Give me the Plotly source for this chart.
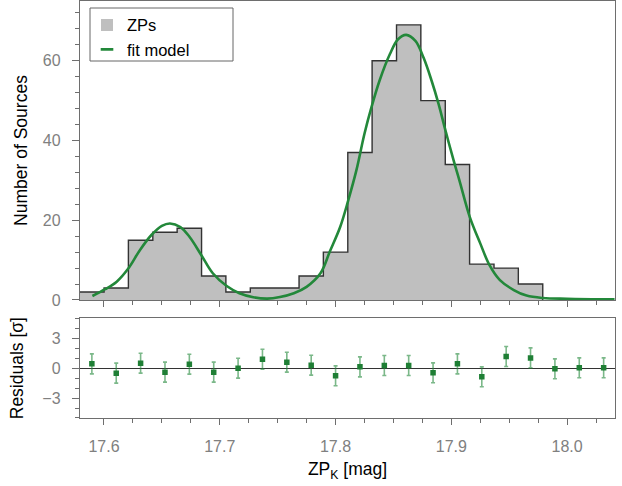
import plotly.graph_objects as go

# ---------------- data ----------------
bin_edges = [17.5790, 17.6001, 17.6211, 17.6422, 17.6632, 17.6843, 17.7053, 17.7264,
             17.7474, 17.7685, 17.7895, 17.8106, 17.8316, 17.8527, 17.8737, 17.8948,
             17.9158, 17.9369, 17.9579, 17.9790, 18.0000, 18.0211, 18.0421]
counts = [2, 3, 15, 17, 18, 6, 2, 3, 3, 6, 12, 37, 60, 69, 50, 34, 9, 8, 4, 0, 0, 0]

fit_x = [17.590, 17.601, 17.611, 17.621, 17.631, 17.641, 17.650, 17.657, 17.666, 17.674,
         17.684, 17.694, 17.706, 17.717, 17.729, 17.741, 17.752, 17.764, 17.775, 17.787,
         17.795, 17.804, 17.811, 17.818, 17.825, 17.831, 17.838, 17.847, 17.854, 17.861,
         17.869, 17.876, 17.883, 17.889, 17.895, 17.902, 17.907, 17.916, 17.925, 17.933,
         17.942, 17.954, 17.965, 17.979, 18.000, 18.041]
fit_y = [1.0, 2.7, 4.6, 7.9, 12.5, 16.3, 18.6, 19.2, 18.3, 15.8,
         11.3, 6.7, 3.5, 1.7, 0.7, 0.35, 0.75, 1.7, 3.3, 6.7,
         12.1, 18.3, 25.0, 32.5, 41.7, 48.3, 55.0, 61.7, 65.4, 66.5,
         65.0, 60.8, 55.0, 49.2, 42.5, 35.0, 30.0, 20.8, 14.2, 8.75,
         5.0, 2.5, 1.1, 0.5, 0.3, 0.15]

residuals = [0.43, -0.5, 0.5, -0.4, 0.4, -0.4, 0.0, 0.9, 0.6, 0.3, -0.77,
             0.13, 0.27, 0.27, -0.47, 0.43, -0.87, 1.17, 1.03, -0.07, 0.03, 0.03]
residual_err = [1.0] * 22

x_ticks = [17.6, 17.7, 17.8, 17.9, 18.0]
x_ticklabels = ["17.6", "17.7", "17.8", "17.9", "18.0"]
y_ticks_top = [0, 20, 40, 60]
y_ticks_res = [-3, 0, 3]

# derived from bins
centers = [(a + b) / 2 for a, b in zip(bin_edges[:-1], bin_edges[1:])]
widths = [b - a for a, b in zip(bin_edges[:-1], bin_edges[1:])]
n_filled = 19  # number of non-empty bins drawn with an outline
step_x = bin_edges[:n_filled + 1]
step_y = counts[:n_filled] + [0]

# ---------------- style ----------------
FONT = "Liberation Sans, Arial, Helvetica, sans-serif"
GREEN = "#23883a"
AXC = "#6e6e6e"
TICKFONT = dict(family=FONT, size=16, color="#808080")
TITLEFONT = dict(family=FONT, size=17.5, color="#000000")

fig = go.Figure()

fig.add_trace(go.Bar(x=centers, y=counts, width=widths, name="ZPs",
                     marker=dict(color="#bfbfbf", line=dict(width=0)),
                     xaxis="x", yaxis="y", showlegend=True))
fig.add_trace(go.Scatter(x=step_x, y=step_y, mode="lines", line_shape="hv",
                         line=dict(color="#333333", width=1.4),
                         xaxis="x", yaxis="y", showlegend=False, hoverinfo="skip"))
fig.add_trace(go.Scatter(x=fit_x, y=fit_y, mode="lines", line_shape="spline",
                         line=dict(color=GREEN, width=2.6),
                         xaxis="x", yaxis="y", showlegend=False, name="fit model"))
# legend handle for the fit model (short dash)
fig.add_trace(go.Scatter(x=[None], y=[None], mode="markers", name="fit model",
                         marker=dict(symbol="line-ew", size=9,
                                     line=dict(color=GREEN, width=2.6)),
                         xaxis="x", yaxis="y", showlegend=True))

fig.add_trace(go.Scatter(x=centers, y=residuals, mode="markers",
                         marker=dict(symbol="square", size=5.5, color="#1f7f35"),
                         error_y=dict(type="data", array=residual_err, visible=True,
                                      color="rgba(35,136,58,0.6)", thickness=1.6, width=2),
                         xaxis="x2", yaxis="y2", showlegend=False))

common_x = dict(range=[17.5793, 18.0414], tickvals=x_ticks, ticktext=x_ticklabels,
                ticks="outside", ticklen=6, tickwidth=1.2, tickcolor=AXC,
                minor=dict(dtick=0.025, tick0=17.6, ticks="outside", ticklen=3.5,
                           tickwidth=1.1, tickcolor=AXC),
                showline=True, linecolor=AXC, linewidth=1.4, mirror=True,
                showgrid=False, zeroline=False, tickfont=TICKFONT, automargin=False)

fig.update_layout(
    width=622, height=486,
    margin=dict(l=80, r=7, t=1, b=68, autoexpand=False),
    paper_bgcolor="white", plot_bgcolor="white",
    bargap=0,
    font=dict(family=FONT),
    xaxis=dict(domain=[0, 1], anchor="y", showticklabels=False, **common_x),
    yaxis=dict(domain=[0.283, 1.0], anchor="x", range=[0, 75],
               tickvals=y_ticks_top, ticks="outside", ticklen=7, tickwidth=1.2,
               tickcolor=AXC,
               minor=dict(dtick=4, tick0=0, ticks="outside", ticklen=4,
                          tickwidth=1.1, tickcolor=AXC),
               showline=True, linecolor=AXC, linewidth=1.4, mirror=True,
               showgrid=False, zeroline=False, tickfont=TICKFONT,
               ticklabelstandoff=8, automargin=False,
               title=dict(text="Number of Sources", font=TITLEFONT, standoff=10)),
    xaxis2=dict(domain=[0, 1], anchor="y2", ticklabelstandoff=8,
                title=dict(text="ZP<sub>K</sub> [mag]", font=TITLEFONT, standoff=8),
                **common_x),
    yaxis2=dict(domain=[0.0, 0.2391], anchor="x2", range=[-5, 5],
                tickvals=y_ticks_res, ticks="outside", ticklen=7, tickwidth=1.2,
                tickcolor=AXC,
                minor=dict(dtick=1, tick0=0, ticks="outside", ticklen=4,
                           tickwidth=1.1, tickcolor=AXC),
                showline=True, linecolor=AXC, linewidth=1.4, mirror=True,
                showgrid=False, zeroline=True, zerolinecolor="#333333",
                zerolinewidth=1.3, tickfont=TICKFONT, ticklabelstandoff=8,
                automargin=False,
                title=dict(text="Residuals [σ]", font=TITLEFONT, standoff=14)),
    legend=dict(x=0.0131, y=0.984, xanchor="left", yanchor="top",
                bgcolor="rgba(0,0,0,0)", borderwidth=0,
                font=dict(family=FONT, size=16.5, color="#000000"),
                tracegroupgap=0, itemwidth=30),
    showlegend=True,
    # frame of the legend box
    shapes=[dict(type="rect", xref="paper", yref="paper",
                 x0=0.0187, x1=0.286, y0=0.8561, y1=0.9832,
                 line=dict(color="#666666", width=1), fillcolor="white",
                 layer="below")],
)

fig.write_html("out.html",
               config={"displayModeBar": False},
               post_script="document.body.style.margin='0px';"
                           "document.body.style.overflow='hidden';")
